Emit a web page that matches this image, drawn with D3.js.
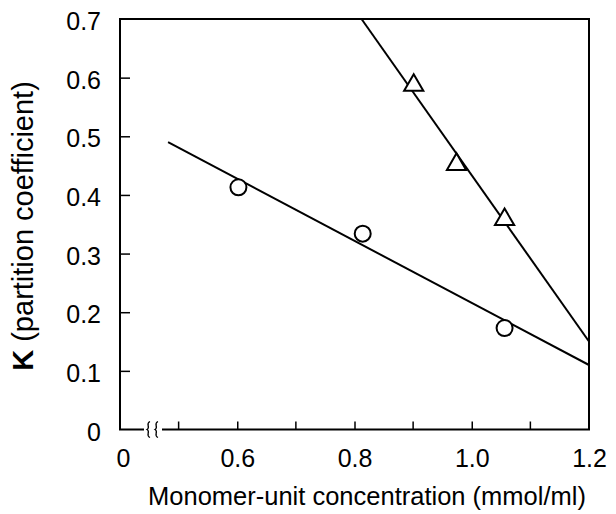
<!DOCTYPE html>
<html>
<head>
<meta charset="utf-8">
<script src="https://cdn.jsdelivr.net/npm/d3@7"></script>
<style>
body { margin: 0; background: #fff; }
svg { font-family: "Liberation Sans", Arial, Helvetica, sans-serif; }
</style>
</head>
<body>
<svg id="chart" width="616" height="514"></svg>
<script>
// data
var circleX = [0.602, 0.814, 1.056]
var circleY = [0.413, 0.334, 0.173]
var triX = [0.901, 0.974, 1.056]
var triY = [0.587, 0.452, 0.358]

// fitted lines, end points
var circleLineX = [0.482, 1.2]
var circleLineY = [0.490, 0.110]
var triLineX = [0.812, 1.2]
var triLineY = [0.700, 0.150]

var xTicks = [0.4, 0.6, 0.8, 1.0, 1.2]
var xTickLabels = ["0", "0.6", "0.8", "1.0", "1.2"]
var xMinorTicks = [0.5, 0.7, 0.9, 1.1]
var yTicks = [0, 0.1, 0.2, 0.3, 0.4, 0.5, 0.6, 0.7]
var yTickLabels = ["0", "0.1", "0.2", "0.3", "0.4", "0.5", "0.6", "0.7"]

var margins = {"top": 19, "left": 120, "bottom": 84.5, "right": 27}
var width = 616 - margins.left - margins.right
var height = 514 - margins.top - margins.bottom

var svg = d3.select("#chart")
var g = svg.append("g").attr("transform", "translate(" + margins.left + "," + margins.top + ")")

var x = d3.scaleLinear().domain([0.4, 1.2]).range([0, width])
var y = d3.scaleLinear().domain([0, 0.7]).range([height, 0])

//axes with inward ticks
var yAxis = d3.axisLeft(y)
  .tickValues(yTicks)
  .tickFormat((d, i) => yTickLabels[i])
  .tickSizeInner(-10).tickSizeOuter(0).tickPadding(19)

var yg = g.append("g").call(yAxis)
yg.select(".domain").remove()
yg.selectAll(".tick line").filter(d => d == 0 || d == 0.7).remove()
yg.selectAll("text").style("font-size", "25px").attr("dy", "0.42em")

var xAxis = d3.axisBottom(x)
  .tickValues(xTicks)
  .tickFormat((d, i) => xTickLabels[i])
  .tickSizeInner(-8).tickSizeOuter(0).tickPadding(20)

var xg = g.append("g").attr("transform", "translate(0," + height + ")").call(xAxis)
xg.select(".domain").remove()
xg.selectAll(".tick line").filter(d => d == 0.4 || d == 1.2).remove()
xg.selectAll("text").style("font-size", "25px")
xg.selectAll(".tick").filter(d => d == 0.4).select("text").attr("x", 3)

xg.selectAll(".minor")
  .data(xMinorTicks)
  .enter().append("line")
  .attr("class", "minor")
  .attr("x1", d => x(d)).attr("x2", d => x(d))
  .attr("y1", 0).attr("y2", -8)
  .attr("stroke", "#000").attr("stroke-width", 1.5)

g.selectAll(".tick line").attr("stroke", "#000").attr("stroke-width", 1.5)

//frame, bottom edge broken near the origin
var frame = d3.path()
frame.moveTo(x(0.4) + 24, height)
frame.lineTo(x(0.4), height)
frame.lineTo(x(0.4), 0)
frame.lineTo(width, 0)
frame.lineTo(width, height)
frame.lineTo(x(0.4) + 42, height)
g.append("path").attr("d", frame.toString())
  .attr("fill", "none").attr("stroke", "#000").attr("stroke-width", 2)

//break marks
var brk = g.append("g").attr("transform", "translate(0," + height + ")")
;[x(0.4) + 28, x(0.4) + 36].forEach(function(bx) {
  brk.append("path")
    .attr("d", "M" + (bx + 2) + ",-8 C" + (bx - 3) + ",-6 " + (bx + 3) + ",-2 " + (bx - 1) + ",0 C" + (bx + 3) + ",2 " + (bx - 3) + ",6 " + (bx + 2) + ",8")
    .attr("fill", "none").attr("stroke", "#000").attr("stroke-width", 1.3)
})

//fit lines
var line = d3.line().x(d => x(d[0])).y(d => y(d[1]))
g.append("path").datum(d3.zip(circleLineX, circleLineY))
  .attr("d", line).attr("fill", "none").attr("stroke", "#000").attr("stroke-width", 2)
g.append("path").datum(d3.zip(triLineX, triLineY))
  .attr("d", line).attr("fill", "none").attr("stroke", "#000").attr("stroke-width", 2)

//markers
g.selectAll(".circ")
  .data(d3.zip(circleX, circleY))
  .enter().append("circle")
  .attr("class", "circ")
  .attr("cx", d => x(d[0])).attr("cy", d => y(d[1])).attr("r", 8)
  .attr("fill", "#fff").attr("stroke", "#000").attr("stroke-width", 2)

var tri = d3.symbol().type(d3.symbolTriangle).size(160)
g.selectAll(".tri")
  .data(d3.zip(triX, triY))
  .enter().append("path")
  .attr("class", "tri")
  .attr("d", tri)
  .attr("transform", d => "translate(" + x(d[0]) + "," + y(d[1]) + ")")
  .attr("fill", "#fff").attr("stroke", "#000").attr("stroke-width", 2)

//axis titles
svg.append("text")
  .attr("x", 367).attr("y", 505)
  .attr("text-anchor", "middle")
  .style("font-size", "25.5px")
  .text("Monomer-unit concentration (mmol/ml)")

var yt = svg.append("text")
  .attr("transform", "translate(33,226) rotate(-90)")
  .attr("text-anchor", "middle")
  .style("font-size", "29px")
yt.append("tspan").style("font-weight", "bold").text("K")
yt.append("tspan").text(" (partition coefficient)")
</script>
</body>
</html>
